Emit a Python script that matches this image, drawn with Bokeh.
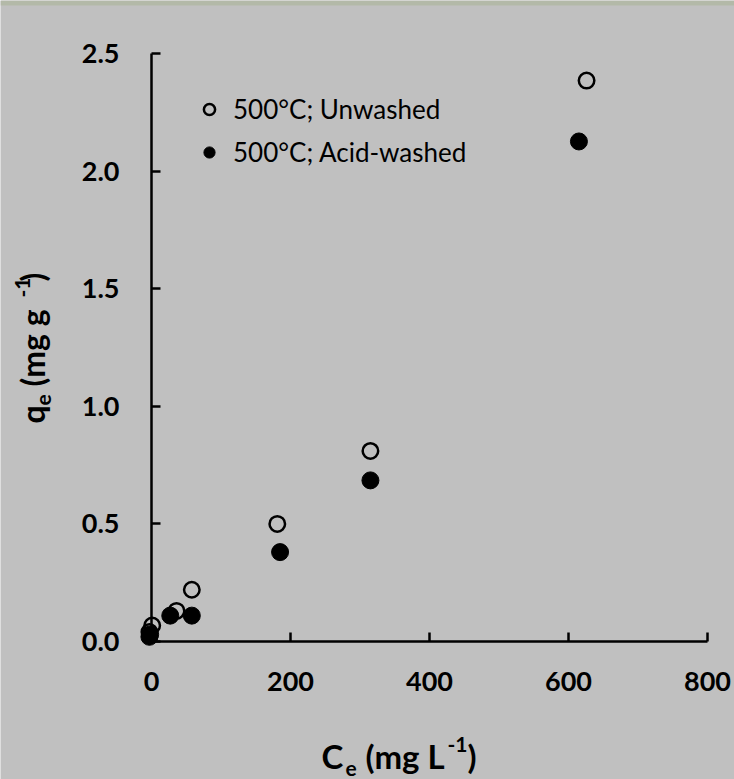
import re
import math
from bokeh.plotting import figure
from bokeh.models import Label, Legend, LegendItem, FixedTicker, NumeralTickFormatter, Range1d, BoxAnnotation
from bokeh.embed import file_html
from bokeh.resources import INLINE

# ---- data ----
unwashed_ce = [-3, 1, 36, 58, 181, 315, 626]
unwashed_qe = [0.04, 0.068, 0.13, 0.22, 0.50, 0.81, 2.385]
acid_ce = [-3, -2, 27, 58, 185, 315, 615]
acid_qe = [0.02, 0.03, 0.11, 0.11, 0.38, 0.685, 2.126]
x_ticks = [0, 200, 400, 600, 800]
y_ticks = [0.0, 0.5, 1.0, 1.5, 2.0, 2.5]
series_labels = ["500°C; Unwashed", "500°C; Acid-washed"]

BG = "#c0c0c0"
FONT = "Lato"
W, H = 734, 779
X0, XS = 151, 0.695     # page x of Ce=0, px per unit
Y0, YS = 641, 235.2     # page y of qe=0, px per unit

p = figure(width=W, height=H,
           x_range=Range1d(-X0 / XS, (W - X0) / XS),
           y_range=Range1d(-(H - Y0) / YS, Y0 / YS),
           output_backend="svg", toolbar_location=None,
           min_border_left=0, min_border_right=0, min_border_top=0, min_border_bottom=0)
p.background_fill_color = BG
p.border_fill_color = BG
p.outline_line_color = None
p.grid.visible = False

# thin textured strip at the very top of the reference image
p.add_layout(BoxAnnotation(top=Y0 / YS, bottom=(Y0 - 5) / YS, fill_color="#b3b9a8",
                           fill_alpha=1.0, line_color=None))

r_open = p.scatter(unwashed_ce, unwashed_qe, marker="circle", size=15.5,
                   fill_color=None, line_color="black", line_width=2.5)
r_fill = p.scatter(acid_ce, acid_qe, marker="circle", size=17,
                   fill_color="black", line_color="black", line_width=1)

for ax in (p.xaxis[0], p.yaxis[0]):
    ax.fixed_location = 0
    ax.axis_line_width = 2.5
    ax.axis_line_color = "black"
    ax.major_tick_line_width = 2.5
    ax.major_tick_line_color = "black"
    ax.major_tick_in = 9
    ax.major_tick_out = 0
    ax.minor_tick_in = 0
    ax.minor_tick_out = 0
    ax.major_label_text_font = FONT
    ax.major_label_text_font_style = "bold"
    ax.major_label_text_font_size = "27px"
    ax.major_label_text_color = "black"

p.xaxis[0].bounds = (x_ticks[0], x_ticks[-1])
p.yaxis[0].bounds = (y_ticks[0], y_ticks[-1])
p.xaxis[0].ticker = FixedTicker(ticks=x_ticks)
p.yaxis[0].ticker = FixedTicker(ticks=y_ticks)
p.yaxis[0].formatter = NumeralTickFormatter(format="0.0")
p.xaxis[0].major_label_standoff = 30
p.yaxis[0].major_label_standoff = 32

legend = Legend(items=[LegendItem(label=series_labels[0], renderers=[r_open]),
                       LegendItem(label=series_labels[1], renderers=[r_fill])],
                location=(195, H - 168), orientation="vertical",
                glyph_width=28, glyph_height=28, label_height=28, spacing=11,
                label_standoff=10, padding=0, margin=0,
                label_text_font=FONT, label_text_font_size="26px", label_text_color="black",
                background_fill_alpha=0, border_line_color=None)
p.add_layout(legend)

# axis titles (screen units relative to the frame = whole canvas, origin bottom-left, y up)
def lab(txt, px, py, size_px, angle=0.0):
    d = 0.31 * size_px  # empirical baseline correction, proportional to font size
    if angle:
        px = px - d
    else:
        py = py - d
    p.add_layout(Label(x=px, y=H - py, x_units="screen", y_units="screen",
                       text=txt, text_font=FONT, text_font_style="bold",
                       text_font_size=f"{size_px}px", text_color="black", angle=angle,
                       text_baseline="alphabetic", text_align="left"))

# x title: C_e (mg L^-1)
lab("C", 321, 766, 33)
lab("e", 345, 775, 21)
lab("(mg L", 365, 766, 33)
lab("-1", 447, 751, 21)
lab(")", 467, 766, 33)

# y title: q_e (mg g^-1), rotated
A = math.pi / 2
lab("q", 42, 423, 32, A)
lab("e", 50, 405, 21, A)
lab("(mg g", 42, 386, 32, A)
lab("-1", 29, 297, 21, A)
lab(")", 42, 281, 32, A)

html = file_html(p, INLINE)
html = re.sub(r"<body([^>]*)>", r'<body\1 style="background-color:#c0c0c0;">', html, count=1)
open("out.html", "w").write(html)
